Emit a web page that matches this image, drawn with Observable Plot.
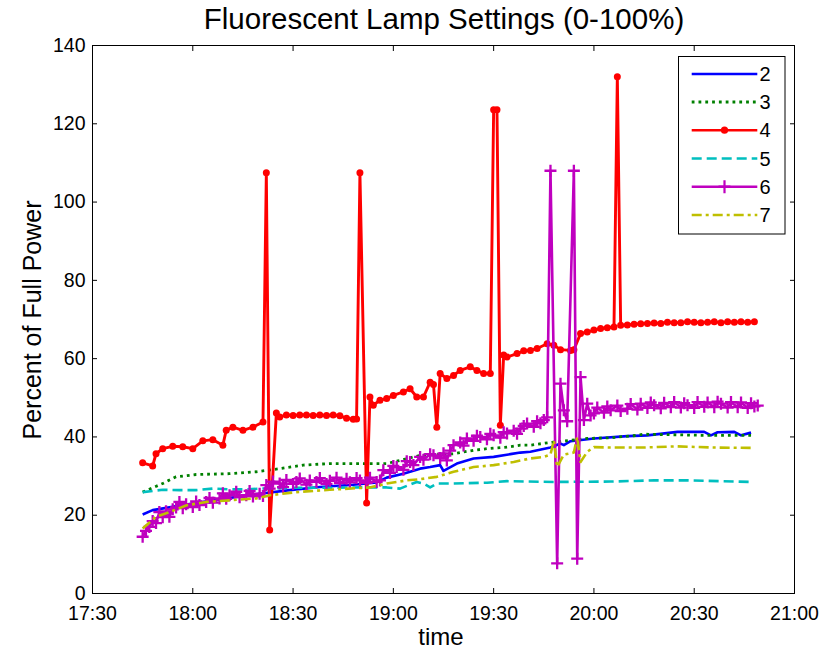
<!DOCTYPE html>
<html>
<head>
<meta charset="utf-8">
<script src="https://cdn.jsdelivr.net/npm/d3@7"></script>
<script src="https://cdn.jsdelivr.net/npm/@observablehq/plot@0.6"></script>
<style>
  html, body { margin: 0; padding: 0; background: white; }
</style>
</head>
<body>
<div id="chart"></div>
<script>
// ---- data (time "HH:MM", percent of full power) ----
const titleText = "Fluorescent Lamp Settings (0-100%)";
const xLabel = "time";
const yLabel = "Percent of Full Power";
const xTickLabels = ["17:30","18:00","18:30","19:00","19:30","20:00","20:30","21:00"];
const yTickValues = [0,20,40,60,80,100,120,140];
const seriesNames = ["2","3","4","5","6","7"];
const seriesColors = ["#0000ff","#008000","#ff0000","#00bfbf","#bf00bf","#bfbf00"];

const series2 = [["17:45",20.2],["17:48",21.3],["17:53",22.0],["18:00",23.0],["18:10",24.3],["18:20",25.5],["18:29",26.4],["18:38",27.2],["18:48",27.8],["18:55",28.4],["18:58",29.6],["19:03",30.6],["19:08",31.9],["19:11",32.3],["19:14",32.8],["19:15",31.3],["19:19",33.2],["19:24",34.5],["19:30",34.9],["19:35",35.6],["19:38",36.0],["19:41",36.2],["19:47",37.3],["19:50",38.3],["19:51",37.9],["19:53",38.9],["20:00",39.6],["20:10",40.2],["20:16",40.4],["20:25",41.3],["20:33",41.3],["20:35",40.4],["20:37",41.2],["20:42",41.3],["20:44",40.4],["20:47",41.1]];

const series3 = [["17:45",25.9],["17:51",28.1],["17:55",29.8],["18:01",30.4],["18:11",30.6],["18:19",31.1],["18:26",31.9],["18:33",32.8],["18:41",33.2],["18:58",33.2],["19:02",34.0],["19:08",35.3],["19:18",35.7],["19:24",36.6],["19:28",37.0],["19:34",37.4],["19:38",37.9],["19:41",37.9],["19:48",38.7],["19:55",39.3],["19:58",39.6],["20:05",39.8],["20:13",40.4],["20:15",40.7],["20:33",40.4],["20:47",40.4]];

const series4 = [["17:45",33.4],["17:48",32.6],["17:49",35.7],["17:51",37.0],["17:54",37.6],["17:57",37.5],["18:00",37.0],["18:03",39.0],["18:06",39.3],["18:09",37.9],["18:10",41.7],["18:12",42.5],["18:15",41.7],["18:18",42.5],["18:21",43.8],["18:22",107.5],["18:23",16.2],["18:25",46.1],["18:26",45.1],["18:28",45.6],["18:30",45.5],["18:32",45.6],["18:34",45.6],["18:36",45.5],["18:38",45.6],["18:40",45.5],["18:42",45.6],["18:44",45.4],["18:46",44.8],["18:48",44.5],["18:49",44.6],["18:50",107.5],["18:52",23.1],["18:53",50.2],["18:54",48.1],["18:56",49.4],["18:58",49.8],["19:00",50.6],["19:03",51.5],["19:05",52.3],["19:07",50.2],["19:09",50.2],["19:11",54.0],["19:12",53.4],["19:13",42.5],["19:14",56.2],["19:16",54.9],["19:18",55.7],["19:20",57.0],["19:23",57.9],["19:25",57.0],["19:27",56.2],["19:29",56.2],["19:30",123.6],["19:31",123.6],["19:32",43.0],["19:33",60.9],["19:34",60.4],["19:37",61.3],["19:39",62.0],["19:41",62.1],["19:43",62.6],["19:46",63.8],["19:48",63.4],["19:50",62.3],["19:53",62.1],["19:54",62.3],["19:56",66.4],["19:58",66.8],["20:00",67.3],["20:02",67.7],["20:04",67.9],["20:06",68.1],["20:07",132.0],["20:08",68.5],["20:10",68.6],["20:12",68.8],["20:14",68.9],["20:16",69.0],["20:18",69.1],["20:20",69.0],["20:22",69.3],["20:24",69.2],["20:26",69.2],["20:28",69.4],["20:30",69.3],["20:32",69.2],["20:34",69.3],["20:36",69.4],["20:38",69.2],["20:40",69.4],["20:42",69.3],["20:44",69.4],["20:46",69.3],["20:48",69.4]];

const series5 = [["17:45",25.9],["17:51",26.5],["17:56",26.4],["18:01",26.4],["18:06",26.8],["18:11",26.6],["18:16",26.6],["18:20",26.8],["18:30",27.0],["18:40",27.0],["18:50",27.1],["18:58",27.1],["19:02",26.8],["19:07",28.5],["19:09",28.1],["19:11",27.1],["19:13",28.1],["19:18",28.1],["19:28",28.3],["19:34",28.7],["19:48",28.5],["20:05",28.6],["20:18",28.9],["20:28",28.9],["20:38",28.7],["20:47",28.5]];

const series6 = [["17:45",14.5],["17:46",16.0],["17:47",17.0],["17:48",18.5],["17:49",18.0],["17:50",20.8],["17:51",19.5],["17:52",21.0],["17:53",19.6],["17:54",21.5],["17:55",22.0],["17:56",23.4],["17:57",21.8],["17:58",22.8],["18:00",22.1],["18:01",23.5],["18:02",22.6],["18:04",23.4],["18:05",24.4],["18:06",23.2],["18:08",24.3],["18:09",25.6],["18:10",24.2],["18:11",25.1],["18:13",26.0],["18:14",24.6],["18:16",25.1],["18:17",26.2],["18:18",24.8],["18:20",25.5],["18:21",24.9],["18:22",27.7],["18:23",26.8],["18:24",28.6],["18:26",28.1],["18:27",27.2],["18:28",29.0],["18:30",28.0],["18:31",28.5],["18:32",29.4],["18:34",27.8],["18:35",28.9],["18:37",28.5],["18:38",29.5],["18:40",28.0],["18:41",28.8],["18:43",29.6],["18:44",28.2],["18:46",29.3],["18:47",28.4],["18:49",29.5],["18:50",28.9],["18:52",28.3],["18:53",29.6],["18:55",28.5],["18:56",28.9],["18:57",31.5],["18:59",30.8],["19:00",32.6],["19:01",32.3],["19:03",31.6],["19:04",33.8],["19:05",33.6],["19:06",32.8],["19:08",34.9],["19:09",34.2],["19:11",35.6],["19:12",35.3],["19:14",34.6],["19:15",35.8],["19:16",34.0],["19:17",36.5],["19:18",37.9],["19:20",38.6],["19:21",37.8],["19:22",39.6],["19:24",39.0],["19:25",40.3],["19:26",40.0],["19:28",39.4],["19:29",40.8],["19:30",40.4],["19:32",39.8],["19:33",41.2],["19:34",40.9],["19:36",41.6],["19:37",40.8],["19:38",42.1],["19:39",42.8],["19:40",43.4],["19:42",42.6],["19:43",44.0],["19:44",43.5],["19:45",44.3],["19:46",45.0],["19:47",108.0],["19:49",7.7],["19:50",53.6],["19:51",46.8],["19:52",44.0],["19:54",108.0],["19:55",8.9],["19:56",55.3],["19:57",44.3],["19:58",48.5],["19:59",45.5],["20:00",46.0],["20:01",47.5],["20:03",46.2],["20:04",47.8],["20:05",46.8],["20:07",48.0],["20:08",46.6],["20:10",47.2],["20:11",48.4],["20:13",47.0],["20:14",48.5],["20:16",47.4],["20:17",48.8],["20:18",48.1],["20:20",47.3],["20:21",48.7],["20:23",47.6],["20:24",48.9],["20:26",47.5],["20:27",48.6],["20:28",48.1],["20:30",47.4],["20:31",48.9],["20:33",47.7],["20:34",48.8],["20:36",47.6],["20:37",49.0],["20:38",48.5],["20:40",47.5],["20:41",48.9],["20:43",47.6],["20:44",48.8],["20:46",47.4],["20:47",48.6],["20:48",47.8],["20:49",48.0]];

const series7 = [["17:45",16.6],["17:49",19.6],["17:53",20.8],["17:58",22.5],["18:04",23.4],["18:11",23.8],["18:19",24.3],["18:23",25.1],["18:31",25.9],["18:41",26.5],["18:53",27.1],["18:58",28.1],["19:04",28.9],["19:08",29.2],["19:13",29.8],["19:18",31.1],["19:24",32.3],["19:30",32.8],["19:36",33.6],["19:41",34.5],["19:45",34.9],["19:47",35.5],["19:48",39.1],["19:49",32.3],["19:51",35.5],["19:54",36.0],["19:55",40.0],["19:56",33.6],["19:58",36.2],["20:00",37.4],["20:05",37.3],["20:15",37.3],["20:25",37.6],["20:35",37.3],["20:47",37.2]];

// ---- rendering ----
const parseT = d3.utcParse("%H:%M");
const fmtT = d3.utcFormat("%H:%M");
const X = d => parseT(d[0]);
const Y = d => d[1];
const FONT = "'Liberation Sans', Arial, Helvetica, sans-serif";

const plusSymbol = {
  draw(context, size) {
    const h = Math.sqrt(size / Math.PI);
    context.moveTo(-h, 0); context.lineTo(h, 0);
    context.moveTo(0, -h); context.lineTo(0, h);
  }
};

const lw = 2.6;
const dashes = [null, "2.8,4", null, "10,5", null, "10,4,3,4"];
const allSeries = [series2, series3, series4, series5, series6, series7];

const lineMarks = [];
allSeries.forEach((s, i) => {
  lineMarks.push(Plot.line(s, {x: X, y: Y, stroke: seriesColors[i], strokeWidth: i === 1 ? 2.8 : (i === 2 ? 2.9 : lw),
    strokeDasharray: dashes[i], strokeLinecap: "butt", strokeLinejoin: "round"}));
  if (seriesNames[i] === "4") lineMarks.push(Plot.dot(s, {x: X, y: Y, r: 3.5, fill: seriesColors[i], stroke: "none"}));
  if (seriesNames[i] === "6") lineMarks.push(Plot.dot(s, {x: X, y: Y, r: 6, symbol: plusSymbol, fill: "none", stroke: seriesColors[i], strokeWidth: 2.3}));
});

const xTicks = xTickLabels.map(parseT);

const chart = Plot.plot({
  width: 824,
  height: 653,
  marginLeft: 92,
  marginRight: 30,
  marginTop: 45,
  marginBottom: 60,
  style: {fontFamily: FONT, fontSize: "19.5px", color: "black", background: "white", overflow: "visible"},
  x: {type: "utc", domain: [parseT("17:30"), parseT("21:00")]},
  y: {domain: [0, 140]},
  marks: [
    ...lineMarks,
    Plot.frame({stroke: "black", strokeWidth: 1}),
    Plot.axisX({ticks: xTicks, tickFormat: fmtT, tickSize: -5, tickPadding: 18, label: null, stroke: "black"}),
    Plot.axisX({anchor: "top", ticks: xTicks, tickFormat: () => "", tickSize: -5, label: null, stroke: "black"}),
    Plot.axisY({ticks: yTickValues, tickSize: -5, tickPadding: 12, label: null, stroke: "black"}),
    Plot.axisY({anchor: "right", ticks: yTickValues, tickFormat: () => "", tickSize: -5, label: null, stroke: "black"})
  ]
});

document.getElementById("chart").appendChild(chart);

// titles and axis labels
const svg = d3.select(chart);
svg.append("text").attr("x", 444).attr("y", 29).attr("text-anchor", "middle")
  .style("font-family", FONT).style("font-size", "29.5px").attr("fill", "black").text(titleText);
svg.append("text").attr("x", 441).attr("y", 645).attr("text-anchor", "middle")
  .style("font-family", FONT).style("font-size", "24px").attr("fill", "black").text(xLabel);
svg.append("text").attr("transform", "translate(41,320) rotate(-90)").attr("text-anchor", "middle")
  .style("font-family", FONT).style("font-size", "25px").attr("fill", "black").text(yLabel);

// legend
const lg = svg.append("g");
lg.append("rect").attr("x", 678.5).attr("y", 56.5).attr("width", 106.5).attr("height", 177.5)
  .attr("fill", "white").attr("stroke", "black").attr("stroke-width", 1);
const rowY = [74, 102, 130.2, 158.5, 186.7, 215];
seriesNames.forEach((name, i) => {
  const y = rowY[i];
  lg.append("line").attr("x1", 691.7).attr("x2", 757.3).attr("y1", y).attr("y2", y)
    .attr("stroke", seriesColors[i]).attr("stroke-width", i === 1 ? 2.8 : lw)
    .attr("stroke-dasharray", dashes[i]);
  if (name === "4") lg.append("circle").attr("cx", 724.5).attr("cy", y).attr("r", 3.6).attr("fill", seriesColors[i]);
  if (name === "6") lg.append("path").attr("d", `M${724.5-6},${y}H${724.5+6}M724.5,${y-6.5}V${y+6.5}`)
    .attr("stroke", seriesColors[i]).attr("stroke-width", 2.2).attr("fill", "none");
  lg.append("text").attr("x", 765).attr("y", y).attr("dy", "0.36em")
    .style("font-family", FONT).style("font-size", "20px").attr("fill", "black").text(name);
});
</script>
</body>
</html>
